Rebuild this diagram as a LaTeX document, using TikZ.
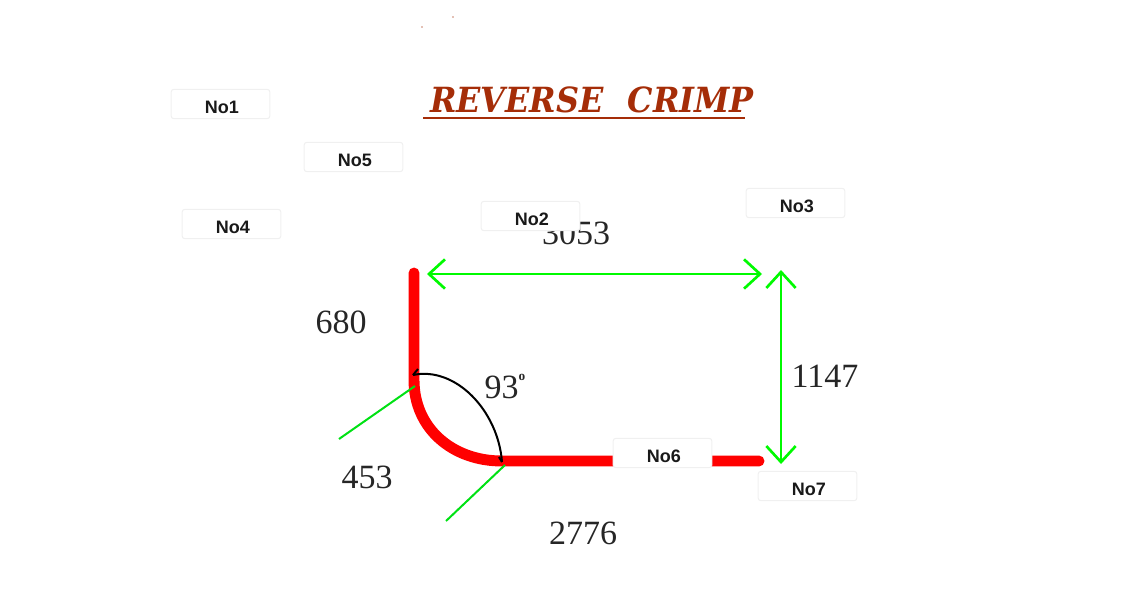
\documentclass[tikz,border=0pt]{standalone}
\usepackage{fontspec}
\setmainfont{Liberation Serif}
\newfontfamily\labelfont{Liberation Sans}
\newfontfamily\titlefont[FakeStretch=0.92]{DejaVu Serif}
\usetikzlibrary{arrows.meta}

\tikzset{every picture/.style={line width=0.75pt}}
\definecolor{titlered}{RGB}{165,45,8}
\definecolor{bendred}{RGB}{255,0,0}
\definecolor{dimgreen}{RGB}{0,250,0}
\definecolor{leadgreen}{RGB}{0,225,20}
\definecolor{boxedge}{RGB}{240,240,240}
\tikzset{
  notag/.style={draw=boxedge,fill=white,rounded corners=2pt,minimum width=74pt,minimum height=22pt,inner sep=0pt,text height=13.5pt,text depth=0pt,font=\labelfont\bfseries\fontsize{13.5}{13.5}\selectfont,text=black!90},
  dimtext/.style={inner sep=0.75pt,font=\fontsize{25.5}{26}\selectfont,text=black!85},
  dimarrow/.style={draw=dimgreen,line width=2pt,{Straight Barb[length=12pt,width=22pt]}-{Straight Barb[length=12pt,width=22pt]}},
  leadline/.style={draw=leadgreen,line width=1.5pt}
}

\begin{document}
\begin{tikzpicture}[x=0.75pt,y=0.75pt,yscale=-1,xscale=1]
\useasboundingbox (0,0) rectangle (1138,590);

%Specks
\fill [titlered!60] (422,27) circle (0.8);
\fill [titlered!60] (453,17) circle (0.8);

% Title
\node (title) at (592,100) [inner sep=0.75pt,text=titlered,font=\titlefont\fontsize{26}{27}\selectfont\bfseries\itshape] {REVERSE\hspace{18pt}CRIMP};
\coordinate (ulineA) at (423,118);
\coordinate (ulineB) at (745,118);
\draw [titlered,line width=1.8pt] (ulineA) -- (ulineB);

%Bend
\coordinate (bendtop) at (414,273);
\coordinate (bendA) at (414,380);
\coordinate (bendB) at (502,461);
\coordinate (bendend) at (759,461);
\draw [bendred,line width=8.2pt,line cap=round,line join=round] (bendtop) -- (bendA) .. controls (414,428) and (452,461) .. (bendB) -- (bendend);

%Angle arc
\coordinate (arcA) at (413,375);
\coordinate (arcB) at (502,462);
\coordinate (tickA) at (418,369);
\coordinate (tickB) at (499,457);
\draw [black,line width=1.5pt] (arcA) .. controls (455,366) and (498,410) .. (arcB);
\draw [black,line width=1.5pt] (arcA) -- (tickA);
\draw [black,line width=1.5pt] (arcB) -- (tickB);

%Lead lines
\coordinate (leadAa) at (339,439);
\coordinate (leadAb) at (415,386);
\coordinate (leadBa) at (446,521);
\coordinate (leadBb) at (505,465);
\draw [leadline] (leadAa) -- (leadAb);
\draw [leadline] (leadBa) -- (leadBb);

%Dimension arrows
\coordinate (dimAa) at (427,274);
\coordinate (dimAb) at (762,274);
\coordinate (dimBa) at (781,270);
\coordinate (dimBb) at (781,464);
\draw [dimarrow] (dimAa) -- (dimAb);
\draw [dimarrow] (dimBa) -- (dimBb);

% Text Node
\node (dimtop) at (576,233) [dimtext] {3053};
\node (dimleg) at (341,322) [dimtext] {680};
\node (dimrad) at (367,477) [dimtext] {453};
\node (dimbase) at (583,533) [dimtext] {2776};
\node (dimrise) at (825,376) [dimtext] {1147};
\node (dimangle) at (505,387) [dimtext] {93\smash{\raisebox{13.5pt}{\fontsize{10}{10}\bfseries o}}};

% Tags
\node (no1) at (220.5,104) [notag] {\hspace*{2pt}No1};
\node (no5) at (353.5,157) [notag] {\hspace*{2pt}No5};
\node (no4) at (231.5,224) [notag] {\hspace*{2pt}No4};
\node (no2) at (530.5,216) [notag] {\hspace*{2pt}No2};
\node (no3) at (795.5,203) [notag] {\hspace*{2pt}No3};
\node (no6) at (662.5,453) [notag] {\hspace*{2pt}No6};
\node (no7) at (807.5,486) [notag] {\hspace*{2pt}No7};

\end{tikzpicture}
\end{document}
